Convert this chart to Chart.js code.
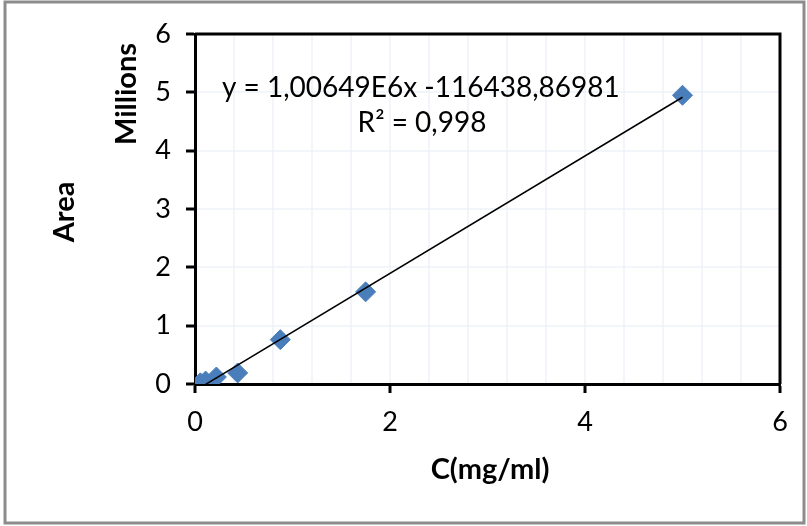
<!DOCTYPE html>
<html>
<head>
<meta charset="utf-8">
<script src="https://cdn.jsdelivr.net/npm/chart.js@4"></script>
<style>
    html, body { margin: 0; padding: 0; background: #fff; }
    #wrap { position: relative; width: 807px; height: 526px; }
</style>
</head>
<body>
<div id="wrap"><canvas id="calib" width="807" height="526"></canvas></div>
<script>
(function () {
    'use strict';

    // concentration (mg/ml) and peak area
    const concentrations = [0.0547, 0.109, 0.219, 0.4375, 0.875, 1.75, 5];
    const areas          = [20000, 50000, 120000, 190000, 760000, 1580000, 4950000];

    // linear fit printed on the chart
    const slope     = 1006490;
    const intercept = -116438.86981;
    const rSquared  = '0,998';

    const xTickLabels = ['0', '2', '4', '6'];
    const yTickLabels = ['0', '1', '2', '3', '4', '5', '6'];

    const FONT = 'Lato, "Open Sans", sans-serif';
    const isMajorX = (v) => Math.abs(v / 2 - Math.round(v / 2)) < 1e-6;

    const points = concentrations.map((c, i) => ({ x: c, y: areas[i] }));
    const xMin = Math.min(...concentrations);
    const xMax = Math.max(...concentrations);
    const trend = [xMin, xMax].map(x => ({ x, y: slope * x + intercept }));

    const frame = {
        id: 'frame',
        beforeDraw(chart) {
            const c = chart.ctx;
            c.save();
            c.strokeStyle = '#8c8c8c';
            c.lineWidth = 3;
            c.strokeRect(5, 2, 799, 521);
            c.restore();
        },
        afterDraw(chart) {
            const c = chart.ctx;
            const a = chart.chartArea;
            c.save();
            c.strokeStyle = '#000';
            c.lineWidth = 3;
            c.beginPath();
            c.moveTo(a.left, a.top);
            c.lineTo(a.right, a.top);
            c.lineTo(a.right, a.bottom);
            c.stroke();

            c.fillStyle = '#000';
            c.font = `28px ${FONT}`;
            c.textBaseline = 'middle';
            c.textAlign = 'left';
            c.fillText('y = 1,00649E6x -116438,86981', 222, 88);
            c.textAlign = 'center';
            c.fillText(`R² = ${rSquared}`, 422, 123);

            c.font = `bold 29px ${FONT}`;
            c.fillText('C(mg/ml)', 490, 470);
            c.save();
            c.translate(65, 212);
            c.rotate(-Math.PI / 2);
            c.fillText('Area', 0, 0);
            c.restore();
            c.save();
            c.translate(127, 94);
            c.rotate(-Math.PI / 2);
            c.fillText('Millions', 0, 0);
            c.restore();
            c.restore();
        }
    };

    new Chart(document.getElementById('calib'), {
        type: 'scatter',
        data: {
            datasets: [
                {
                    label: 'Area',
                    data: points,
                    pointStyle: 'rectRot',
                    pointRadius: 10,
                    pointHoverRadius: 10,
                    backgroundColor: '#4a7ebb',
                    borderColor: '#4a7ebb',
                    borderWidth: 1,
                    order: 2
                },
                {
                    label: 'Linear',
                    type: 'line',
                    data: trend,
                    borderColor: '#000',
                    borderWidth: 1.5,
                    pointRadius: 0,
                    fill: false,
                    order: 1
                }
            ]
        },
        options: {
            responsive: false,
            animation: false,
            events: [],
            layout: { padding: { top: 34, right: 27, left: 0, bottom: 0 } },
            plugins: { legend: { display: false }, tooltip: { enabled: false } },
            scales: {
                x: {
                    type: 'linear',
                    min: 0, max: 6,
                    afterFit: (s) => { s.height = 142; },
                    border: { color: '#000', width: 3 },
                    grid: {
                        color: 'rgba(232,238,247,0.55)',
                        lineWidth: 2,
                        tickLength: 9,
                        tickWidth: 3,
                        tickColor: (ctx) => (ctx.tick && isMajorX(ctx.tick.value)) ? '#000' : 'rgba(0,0,0,0)'
                    },
                    ticks: {
                        stepSize: 0.4,
                        autoSkip: false,
                        maxRotation: 0,
                        padding: 13,
                        color: '#000',
                        font: { family: FONT, size: 27 },
                        callback: (v) => isMajorX(v) ? xTickLabels[Math.round(v / 2)] : ''
                    }
                },
                y: {
                    type: 'linear',
                    min: 0, max: 6000000,
                    afterFit: (s) => { s.width = 195; },
                    border: { color: '#000', width: 3 },
                    grid: {
                        color: 'rgba(232,238,247,0.55)',
                        lineWidth: 2,
                        tickLength: 9,
                        tickWidth: 3,
                        tickColor: '#000'
                    },
                    ticks: {
                        stepSize: 1000000,
                        padding: 15,
                        color: '#000',
                        font: { family: FONT, size: 27 },
                        callback: (v) => yTickLabels[Math.round(v / 1000000)]
                    }
                }
            }
        },
        plugins: [frame]
    });
})();
</script>
</body>
</html>
